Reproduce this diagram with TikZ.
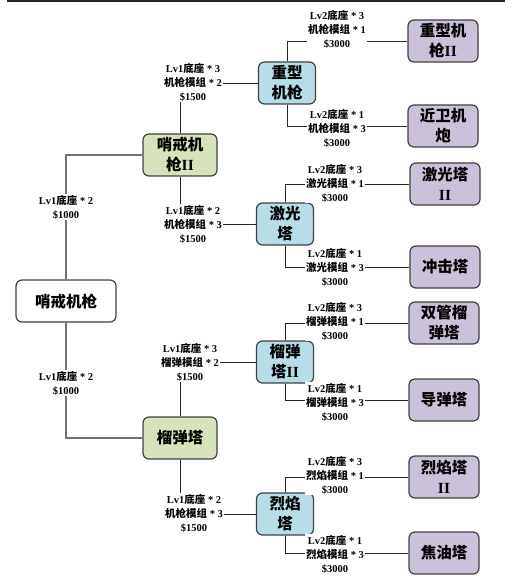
\documentclass[tikz,border=0pt]{standalone}
\usepackage{fontspec}
\setmainfont{Liberation Serif}
\newfontfamily\cjk{Noto Sans CJK SC}
\usetikzlibrary{positioning}
\definecolor{boxGreen}{RGB}{215, 227, 188}
\definecolor{boxBlue}{RGB}{183, 221, 232}
\definecolor{boxPurple}{RGB}{204, 193, 218}
\definecolor{edgeGray}{RGB}{64, 64, 64}
\newcommand{\zh}[1]{{\cjk #1}}
\newcommand{\rom}[1]{{\rmfamily\bfseries #1}}

\begin{document}
\begin{tikzpicture}[x=1pt, y=-1pt,
    tower/.style={draw=edgeGray, line width=1.2pt, rounded corners=6pt, minimum height=42pt,
      align=center, inner sep=1pt, font=\cjk\bfseries\fontsize{15.5}{20}\selectfont},
    basebox/.style={tower, fill=white, minimum width=100pt},
    tierone/.style={tower, fill=boxGreen, minimum width=74pt},
    tiertwo/.style={tower, fill=boxBlue, minimum width=57pt},
    tierthree/.style={tower, fill=boxPurple, minimum width=70pt},
    cost/.style={fill=white, align=center, inner sep=1pt, font=\bfseries\fontsize{10.5}{14}\selectfont},
    link/.style={draw=black!85, line width=0.8pt},
    rootlink/.style={draw=black!55, line width=1.4pt}]
  \useasboundingbox (0,0) rectangle (517,577);
  \draw[line width=1.5pt, black!85] (7,0.8) -- (505,0.8);

  % towers
  \node[basebox] (sentry) at (66,301) {哨戒机枪};
  \node[tierone] (sentryII) at (180,155) {哨戒机\\枪\rom{II}};
  \node[tierone] (mortar) at (180,438) {榴弹塔};
  \node[tiertwo] (heavy) at (287,83) {重型\\机枪};
  \node[tiertwo] (laser) at (285,224) {激光\\塔};
  \node[tiertwo] (mortarII) at (285,362) {榴弹\\塔\rom{II}};
  \node[tiertwo] (flame) at (285,514) {烈焰\\塔};
  \node[tierthree] (heavyII) at (443,41) {重型机\\枪\rom{II}};
  \node[tierthree] (ciws) at (443,126) {近卫机\\炮};
  \node[tierthree] (laserII) at (445,184) {激光塔\\\rom{II}};
  \node[tierthree] (shock) at (445,267) {冲击塔};
  \node[tierthree] (twin) at (444,323) {双管榴\\弹塔};
  \node[tierthree] (missile) at (444,400) {导弹塔};
  \node[tierthree] (flameII) at (444,477) {烈焰塔\\\rom{II}};
  \node[tierthree] (tar) at (444,553) {焦油塔};

  % upgrade paths
  \draw[rootlink] (sentry.north) |- (sentryII.west);
  \draw[rootlink] (sentry.south) |- (mortar.west);
  \draw[link] (sentryII.north) |- (heavy.west);
  \draw[link] (sentryII.south) |- (laser.west);
  \draw[link] (mortar.north) |- (mortarII.west);
  \draw[link] (mortar.south) |- (flame.west);
  \draw[link] (heavy.north) |- (heavyII.west);
  \draw[link] (heavy.south) |- (ciws.west);
  \draw[link] (laser.north) |- (laserII.west);
  \draw[link] (laser.south) |- (shock.west);
  \draw[link] (mortarII.north) |- (twin.west);
  \draw[link] (mortarII.south) |- (missile.west);
  \draw[link] (flame.north) |- (flameII.west);
  \draw[link] (flame.south) |- (tar.west);

  % costs
  \node[cost] (c1) at (66,207) {Lv1\zh{底座} * 2\\\$1000};
  \node[cost] (c2) at (66,383) {Lv1\zh{底座} * 2\\\$1000};
  \node[cost] (c3) at (193,82) {Lv1\zh{底座} * 3\\\zh{机枪模组} * 2\\\$1500};
  \node[cost] (c4) at (193,224) {Lv1\zh{底座} * 2\\\zh{机枪模组} * 3\\\$1500};
  \node[cost] (c5) at (190,362) {Lv1\zh{底座} * 3\\\zh{榴弹模组} * 2\\\$1500};
  \node[cost] (c6) at (194,513) {Lv1\zh{底座} * 2\\\zh{机枪模组} * 3\\\$1500};
  \node[cost] (c7) at (337,29) {Lv2\zh{底座} * 3\\\zh{机枪模组} * 1\\\$3000};
  \node[cost] (c8) at (337,128) {Lv2\zh{底座} * 1\\\zh{机枪模组} * 3\\\$3000};
  \node[cost] (c9) at (335,183) {Lv2\zh{底座} * 3\\\zh{激光模组} * 1\\\$3000};
  \node[cost] (c10) at (335,267) {Lv2\zh{底座} * 1\\\zh{激光模组} * 3\\\$3000};
  \node[cost] (c11) at (335,321) {Lv2\zh{底座} * 3\\\zh{榴弹模组} * 1\\\$3000};
  \node[cost] (c12) at (335,402) {Lv2\zh{底座} * 1\\\zh{榴弹模组} * 3\\\$3000};
  \node[cost] (c13) at (335,475) {Lv2\zh{底座} * 3\\\zh{烈焰模组} * 1\\\$3000};
  \node[cost] (c14) at (335,554) {Lv2\zh{底座} * 1\\\zh{烈焰模组} * 3\\\$3000};
\end{tikzpicture}
\end{document}
